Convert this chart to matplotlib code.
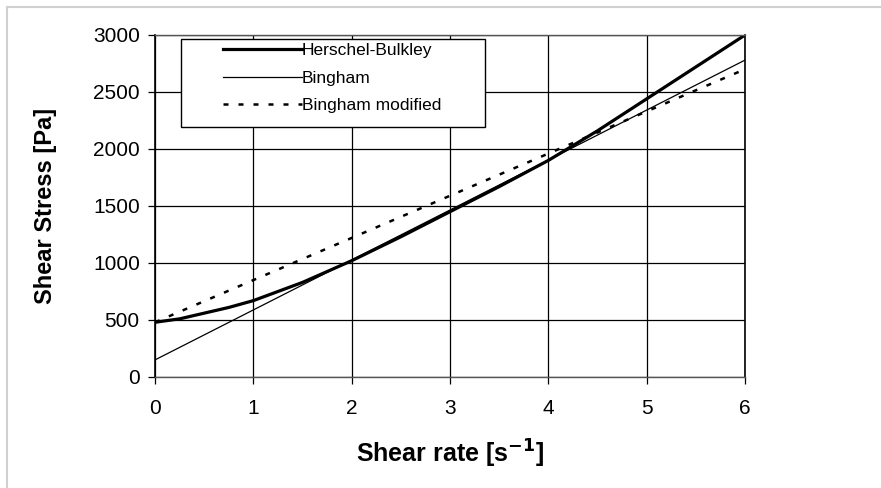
import matplotlib.pyplot as plt
from matplotlib.lines import Line2D
from matplotlib.patches import Rectangle

plt.rcParams['font.family'] = ['Liberation Sans', 'DejaVu Sans']

# ── Values ────────────────────────────────────────────────────────────────
rate_hb = [0, 0.25, 0.5, 0.75, 1, 1.5, 2, 2.5, 3, 3.5, 4, 4.5, 5, 5.5, 6]
stress_hb = [480, 510, 560, 610, 670, 830, 1020, 1230, 1450, 1670, 1900, 2160, 2440, 2720, 3000]

rate_bingham = [0, 6]
stress_bingham = [150, 2780]

rate_bmod = [0, 6]
stress_bmod = [480, 2700]

x_ticks = [0, 1, 2, 3, 4, 5, 6]
y_ticks = [0, 500, 1000, 1500, 2000, 2500, 3000]

# ── Figure ────────────────────────────────────────────────────────────────
fig = plt.figure(figsize=(8.81, 4.88), dpi=100)
fig.patch.set_facecolor('white')
ax = fig.add_axes([0.176, 0.2275, 0.6697, 0.7008])

# thin grey frame of the scanned page
fig.add_artist(Line2D([0.008, 1.0], [0.986, 0.986], color='#d0d0d0', lw=1.5,
                      transform=fig.transFigure))
fig.add_artist(Line2D([0.008, 0.008], [0.0, 0.986], color='#d0d0d0', lw=1.5,
                      transform=fig.transFigure))

ax.grid(True, color='black', linewidth=0.9)
ax.set_axisbelow(True)

l_hb, = ax.plot(rate_hb, stress_hb, color='black', lw=2.3, label='Herschel-Bulkley')
l_b, = ax.plot(rate_bingham, stress_bingham, color='black', lw=0.9, label='Bingham')
l_bm, = ax.plot(rate_bmod, stress_bmod, color='black', lw=1.8,
                dashes=(2, 4), label='Bingham modified')

ax.set_xlim(0, 6)
ax.set_ylim(0, 3000)
ax.set_xticks(x_ticks)
ax.set_yticks(y_ticks)
ax.tick_params(direction='out', length=5, width=0.9, labelsize=15)
ax.tick_params(axis='x', pad=11)
ax.tick_params(axis='y', pad=6)

for side in ['left', 'right']:
    ax.spines[side].set_color('black')
    ax.spines[side].set_linewidth(1.2)
for side in ['top', 'bottom']:
    ax.spines[side].set_color('#555555')
    ax.spines[side].set_linewidth(1.0)

ax.set_xlabel('Shear rate [s$^{\\mathbf{-1}}$]', fontsize=18, fontweight='bold',
              labelpad=14)
ax.set_ylabel('Shear Stress [Pa]', fontsize=17, fontweight='bold', labelpad=26)

# legend frame and entries
ax.add_patch(Rectangle((0.044, 0.731), 0.515, 0.257, transform=ax.transAxes,
                       facecolor='white', edgecolor='black', lw=1.0, zorder=4))
leg = ax.legend(handles=[l_hb, l_b, l_bm], loc='upper left',
                bbox_to_anchor=(0.115, 0.977), frameon=False, fontsize=12.5,
                handlelength=4.55, handletextpad=0.0, labelspacing=0.72,
                borderpad=0, borderaxespad=0)
leg.set_zorder(5)

plt.savefig('out.png', dpi=100, facecolor='white')
